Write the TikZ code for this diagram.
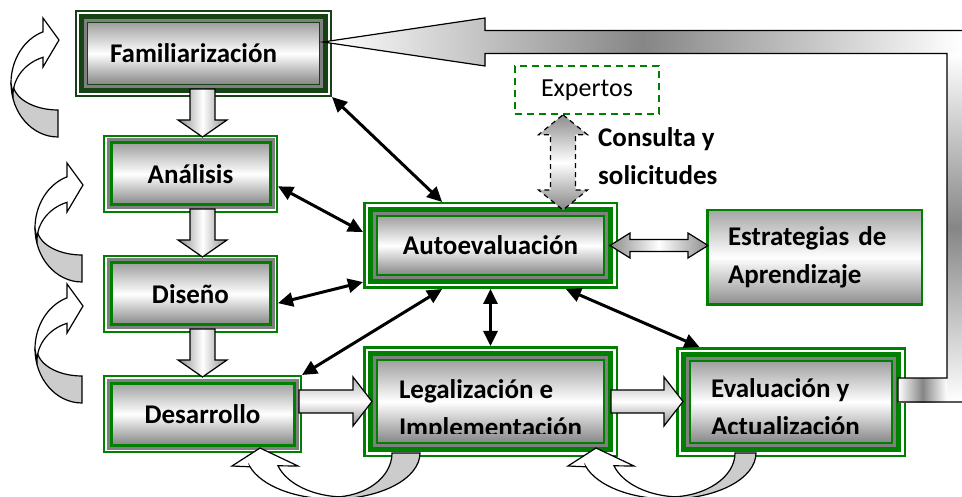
\documentclass[tikz,border=0pt]{standalone}
\usepackage{fontspec}
\setmainfont{Carlito}
\usetikzlibrary{calc,arrows.meta}
\tikzset{>=stealth}
\definecolor{boxgreen}{RGB}{0,128,0}
\definecolor{famgreen}{RGB}{22,66,22}
\newcommand*{\boxfont}{\fontsize{27}{38}\selectfont\bfseries}

% curved arrow at the left of a box (right end at #1, middle at #2)
\newcommand*{\sideloop}[2]{%
  \begin{scope}[shift={(#1,#2)}]
    \filldraw[loopback] (0,27) -- (0,54) arc[start angle=270,end angle=180,x radius=47pt,y radius=54pt] -- (-45,0) arc[start angle=180,end angle=270,x radius=45pt,y radius=27pt] -- cycle;
    \filldraw[loopfront] (-15,-51.2) -- (-15,-65) -- (1,-43) -- (-15,-16) -- (-15,-25.7) arc[start angle=109.5,end angle=180,x radius=45pt,y radius=40pt] -- (-47,0) arc[start angle=180,end angle=108.6,x radius=47pt,y radius=54pt] -- cycle;
  \end{scope}}
% curved arrow under two boxes (centre at #1, inner radius #2)
\newcommand*{\bottomloop}[2]{%
  \begin{scope}[shift={(#1,453)}]
    \filldraw[loopback] (#2,0) -- (87,0) arc[start angle=0,end angle=-90,x radius=87pt,y radius=46pt] -- (0,44) arc[start angle=-90,end angle=0,x radius=#2pt,y radius=44pt] -- cycle;
    \filldraw[loopfront] (-83,13.8) -- (-101,13) -- (-73,-5) -- (-35,13) -- (-55,12.8) arc[start angle=196.9,end angle=270,x radius=70pt,y radius=44pt] -- (0,46) arc[start angle=270,end angle=197.4,x radius=87pt,y radius=46pt] -- cycle;
  \end{scope}}
\newcommand*{\downblock}[2]{%
  \draw[blockarrow,left color=gray!90,right color=gray!90,middle color=white] ($(#1)+(-12.5,0)$) -- ($(#2)+(-12.5,-17)$) -- ($(#2)+(-24.5,-17)$) -- (#2) -- ($(#2)+(24.5,-17)$) -- ($(#2)+(12.5,-17)$) -- ($(#1)+(12.5,0)$) -- cycle;}
\newcommand*{\rightblock}[2]{%
  \draw[blockarrow,top color=gray!60,bottom color=gray!90,middle color=white] ($(#1)+(0,-11.5)$) -- ($(#2)+(-19,-11.5)$) -- ($(#2)+(-19,-24.5)$) -- (#2) -- ($(#2)+(-19,24.5)$) -- ($(#2)+(-19,11.5)$) -- ($(#1)+(0,11.5)$) -- cycle;}

\begin{document}
\begin{tikzpicture}[x=1pt,y=-1pt,font=\fontsize{26}{38}\selectfont,
  shadebox/.style={rectangle,inner sep=0pt,top color=gray!75,bottom color=gray!95,middle color=white,font=\boxfont},
  plainbox/.style={shadebox,draw=boxgreen,line width=3pt,outer sep=8pt,
    preaction={draw=boxgreen,line width=16pt},preaction={draw=white,line width=12pt},preaction={draw=gray,line width=9pt}},
  trigreen/.style={shadebox,draw=boxgreen,line width=2.6pt,outer sep=14pt,
    preaction={draw=boxgreen,line width=28pt},preaction={draw=white,line width=23pt},
    preaction={draw=boxgreen,line width=18.4pt},preaction={draw=gray,line width=8pt}},
  famframe/.style={shadebox,draw=famgreen,line width=1.5pt,outer sep=12.5pt,
    preaction={draw=famgreen,line width=25pt},preaction={draw=white,line width=20.4pt},
    preaction={draw=famgreen,line width=17pt},preaction={draw=gray,line width=7pt}},
  cliptext/.style={anchor=base west,inner sep=0pt,outer sep=0pt,minimum width=0pt,minimum height=0pt,font=\boxfont},
  conn/.style={line width=3pt,{Triangle[length=15pt,width=14pt]}-{Triangle[length=15pt,width=14pt]}},
  blockarrow/.style={draw=black,line width=1.2pt},
  loopback/.style={fill=gray!40,draw=black,line width=1.2pt},
  loopfront/.style={fill=white,draw=black,line width=1.2pt}]
\useasboundingbox (0,0) rectangle (962,497);

% boxes
\node[famframe,minimum width=232pt,minimum height=62pt,text width=187pt,inner xsep=22.5pt,align=left] (fam) at (203.5,53.5) {Familiarización};
\node[plainbox,minimum width=159pt,minimum height=62pt] (ana) at (190.5,174) {Análisis};
\node[plainbox,minimum width=159pt,minimum height=62pt] (dis) at (190.5,294) {Diseño};
\node[plainbox,minimum width=183pt,minimum height=62pt] (des) at (202.5,414) {Desarrollo};
\node[trigreen,minimum width=227pt,minimum height=59pt] (auto) at (490.5,245.5) {Autoevaluación};
\node[trigreen,minimum width=227pt,minimum height=83pt,
  path picture={\clip ($(path picture bounding box.south west)+(0,-10)$) rectangle (path picture bounding box.north east);
    \node[cliptext] at ($(path picture bounding box.north west)+(22,38)$) {Legalización e};
    \node[cliptext] at ($(path picture bounding box.north west)+(22,76)$) {Implementación};}] (leg) at (490.5,401.5) {};
\node[trigreen,minimum width=202pt,minimum height=82pt,
  path picture={\clip ($(path picture bounding box.south west)+(0,-10)$) rectangle (path picture bounding box.north east);
    \node[cliptext] at ($(path picture bounding box.north west)+(21,36)$) {Evaluación y};
    \node[cliptext] at ($(path picture bounding box.north west)+(21,74)$) {Actualización};}] (eval) at (791,402) {};
\node[shadebox,top color=gray!70,bottom color=gray!90,middle color=white,draw=boxgreen,line width=2.5pt,minimum width=214.5pt,minimum height=94.5pt,
  text width=173pt,inner xsep=20.75pt,align=left] (estr) at (814.5,257.5) {Estrategias de\\Aprendizaje};
\node[draw=boxgreen,dash pattern=on 7pt off 5pt,line width=1.5pt,minimum width=144pt,minimum height=48pt] (exp) at (587,90) {Expertos};
\node[anchor=base west,align=left,inner sep=0pt,font=\boxfont] (cons) at (598,185) {Consulta y\\solicitudes};

% return arrow from Evaluación to Familiarización
\coordinate (rtip) at ($(fam.east)+(-9,-11.5)$);
\coordinate (rstub) at ($(eval.east)+(-8,0)$);
\fill[left color=white,right color=white,middle color=gray!95] (rtip) -- +(162,-24) -- +(162,-11.5) -- +(639,-11.5) -- +(639,11.5) -- +(162,11.5) -- +(162,24) -- cycle;
\fill[top color=white,bottom color=white,middle color=gray!95] ($(rstub)+(49,-348.5)$) rectangle +(15,348.5);
\fill[left color=white,right color=white,middle color=gray!95] (rstub) rectangle +(49,-24);
\draw[line width=1.2pt] (rtip) +(639,-11.5) -- +(162,-11.5) -- +(162,-24) -- (rtip) -- +(162,24) -- +(162,11.5) -- ($(rstub)+(49,-348.5)$) -- ($(rstub)+(49,-24)$) -- ($(rstub)+(0,-24)$) -- (rstub) -- +(64,0);

% block arrows
\coordinate (d0) at ($(fam.south)+(-1,-8)$);
\coordinate (d1) at ($(d0 |- ana.north)+(0,2)$);
\coordinate (d2) at ($(d0 |- ana.south)+(0,-4)$);
\coordinate (d3) at ($(d0 |- dis.north)+(0,2)$);
\coordinate (d4) at ($(d0 |- dis.south)+(0,-4)$);
\coordinate (d5) at ($(d0 |- des.north)+(0,2)$);
\downblock{d0}{d1}
\downblock{d2}{d3}
\downblock{d4}{d5}
\coordinate (r0) at ($(des.east |- leg.west)+(-3,0)$);
\coordinate (r1) at ($(leg.west)+(9,0)$);
\coordinate (r2) at ($(leg.east)+(-7,0)$);
\coordinate (r3) at ($(eval.west |- r2)+(7,0)$);
\rightblock{r0}{r1}
\rightblock{r2}{r3}

% Autoevaluación <-> Estrategias
\coordinate (sl) at ($(auto.east)+(-8,0)$);
\coordinate (sr) at ($(estr.west |- sl)+(2,0)$);
\draw[line width=1.2pt,left color=gray!90,right color=gray!90,middle color=white] (sl) -- +(20,-12.5) -- +(20,-6) -- ($(sr)+(-20,-6)$) -- ($(sr)+(-20,-12.5)$) -- (sr) -- +(-20,12.5) -- +(-20,6) -- ($(sl)+(20,6)$) -- +(0,6.5) -- cycle;

% Expertos <-> Autoevaluación
\coordinate (ct) at ($(exp.south)+(-24,0)$);
\coordinate (cb) at ($(ct |- auto.north)+(0,8)$);
\draw[line width=1.2pt,dash pattern=on 5pt off 4pt,top color=gray!90,bottom color=gray!95,middle color=white] (ct) -- +(24.5,20) -- +(12.5,20) -- ($(cb)+(12.5,-20)$) -- ($(cb)+(24.5,-20)$) -- (cb) -- +(-24.5,-20) -- +(-12.5,-20) -- ($(ct)+(-12.5,20)$) -- +(-12,0) -- cycle;

% links with Autoevaluación
\draw[conn] (fam.south east) -- (auto.138);
\draw[conn] (ana.-8) -- (auto.174);
\draw[conn] (dis.-6) -- (auto.196);
\draw[conn] (des.north east) -- (auto.222);
\draw[conn] (auto.south) -- (leg.north);
\draw[conn] (auto.-30) -- (eval.149);

% curved arrows
\sideloop{58}{83}
\sideloop{82}{228}
\sideloop{82}{349}
\bottomloop{333}{59}
\bottomloop{669}{66}
\end{tikzpicture}
\end{document}
